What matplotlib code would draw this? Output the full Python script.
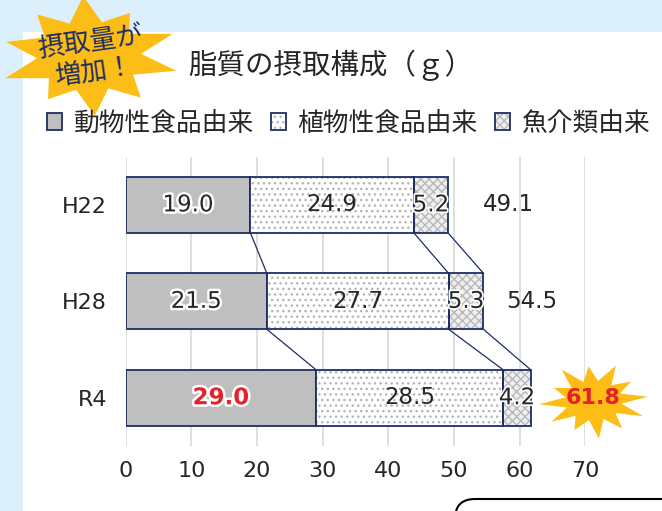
import numpy as np
import matplotlib.pyplot as plt
import matplotlib.patheffects as pe
from matplotlib.patches import Patch, Polygon, Rectangle, FancyBboxPatch
from matplotlib.path import Path

plt.rcParams['font.family'] = ['DejaVu Sans', 'Noto Sans CJK JP']

# data
years = ['H22', 'H28', 'R4']
animal = [19.0, 21.5, 29.0]
plant = [24.9, 27.7, 28.5]
fish = [5.2, 5.3, 4.2]
totals = [49.1, 54.5, 61.8]
series_names = ['動物性食品由来', '植物性食品由来', '魚介類由来']
xticks = [0, 10, 20, 30, 40, 50, 60, 70]
title = '脂質の摂取構成（ｇ）'
badge = '摂取量が\n増加！'

# styles / positions
NAVY = '#1f2d63'
GRAY = '#bfbfbf'
DOT = '#b5b5b5'
CHK = '#b8b8b8'
TXT = '#262626'
RED = '#e8202a'
YEL = '#fbbd16'
BLUE_BG = '#dcf0fb'
total_label_x = [58.3, 61.9, 71.2]
bar_h = 0.58
JP = 'Noto Sans CJK JP'


def burst(radii, rx, ry, rot=0.0, inner=0.5):
    n = len(radii)
    ang = np.linspace(0, 2 * np.pi, 2 * n, endpoint=False) + rot
    r = np.empty(2 * n)
    r[0::2] = radii
    r[1::2] = inner
    return np.column_stack([rx * r * np.cos(ang), ry * r * np.sin(ang)])


fig = plt.figure(figsize=(6.62, 5.11), dpi=100)
fig.patch.set_facecolor(BLUE_BG)

# background panel
bg = fig.add_axes([0, 0, 1, 1], zorder=0)
bg.set_xlim(0, 662)
bg.set_ylim(511, 0)
bg.axis('off')
bg.add_patch(Rectangle((22.7, 31.7), 700, 600, facecolor='white', edgecolor='none'))
bg.add_patch(FancyBboxPatch((455, 499), 300, 80, boxstyle='round,pad=0,rounding_size=20',
                            facecolor='white', edgecolor='black', lw=1.5))

# main chart
ax = fig.add_axes([0.1899, 0.1272, 0.6941, 0.5662], zorder=1)
ax.set_facecolor('none')
y = np.arange(len(years))
a = np.array(animal)
p = np.array(plant)
f = np.array(fish)
left_f = a + p

ax.barh(y, a, height=bar_h, color=GRAY, edgecolor=NAVY, lw=1.3, zorder=3)
ax.barh(y, p, left=a, height=bar_h, color='white', edgecolor=DOT, hatch='...', lw=0, zorder=3)
ax.barh(y, p, left=a, height=bar_h, fill=False, edgecolor=NAVY, lw=1.3, zorder=4)
ax.barh(y, f, left=left_f, height=bar_h, color='#efefef', edgecolor=CHK, hatch='xxxx', lw=0, zorder=3)
ax.barh(y, f, left=left_f, height=bar_h, fill=False, edgecolor=NAVY, lw=1.3, zorder=4)

# connector lines between bars
bounds = np.column_stack([a, left_f, left_f + f])
for i in range(len(years) - 1):
    for k in range(bounds.shape[1]):
        ax.plot([bounds[i, k], bounds[i + 1, k]], [i + bar_h / 2, i + 1 - bar_h / 2],
                color=NAVY, lw=0.9, zorder=2)

# value labels
halo = [pe.withStroke(linewidth=3.5, foreground='white')]
for i in range(len(years)):
    last = i == len(years) - 1
    ax.text(a[i] / 2, i, f'{a[i]:.1f}', ha='center', va='center', fontsize=16.5,
            color=RED if last else TXT, fontweight='bold' if last else 'normal',
            path_effects=halo, zorder=6)
    ax.text(a[i] + p[i] / 2, i, f'{p[i]:.1f}', ha='center', va='center', fontsize=16.5,
            color=TXT, zorder=6)
    ax.text(left_f[i] + f[i] / 2, i, f'{f[i]:.1f}', ha='center', va='center', fontsize=16.5,
            color=TXT, path_effects=[pe.withStroke(linewidth=2.5, foreground='white')], zorder=6)
    if last:
        star = Path(burst([1, 0.85, 1, 0.9, 1, 0.8, 1, 0.95, 0.85, 1, 0.9, 1], 1.0, 0.7, 0.1,
                          inner=0.52), closed=False)
        ax.plot(total_label_x[i], i + 0.02, marker=star, markersize=78, color=YEL,
                markeredgewidth=0, clip_on=False, zorder=5)
        ax.text(total_label_x[i], i, f'{totals[i]:.1f}', ha='center', va='center',
                fontsize=16, fontweight='bold', color=RED, zorder=6, clip_on=False)
    else:
        ax.text(total_label_x[i], i, f'{totals[i]:.1f}', ha='center', va='center',
                fontsize=16.5, color=TXT, zorder=6)

ax.set_xlim(0, 70)
ax.set_ylim(len(years) - 0.5, -0.5)
ax.set_xticks(xticks)
ax.set_yticks(y)
ax.set_yticklabels(years)
ax.tick_params(axis='x', length=0, pad=11, labelsize=16, labelcolor=TXT)
ax.tick_params(axis='y', length=0, pad=13.5, labelsize=16, labelcolor=TXT)
ax.grid(axis='x', color='#d9d9d9', lw=1.2, zorder=0)
ax.set_axisbelow(True)
for s in ax.spines.values():
    s.set_visible(False)

# legend
handles = [
    Patch(facecolor=GRAY, edgecolor=NAVY, lw=1.3),
    (Patch(facecolor='white', edgecolor=DOT, hatch='...', lw=0),
     Patch(fill=False, edgecolor=NAVY, lw=1.3)),
    (Patch(facecolor='#efefef', edgecolor=CHK, hatch='xxxx', lw=0),
     Patch(fill=False, edgecolor=NAVY, lw=1.3)),
]
fig.legend(handles, series_names, loc='center left', bbox_to_anchor=(0.0705, 0.7583),
           ncol=3, frameon=False, prop={'family': JP, 'size': 18.5},
           handlelength=0.6, handleheight=0.6, handletextpad=0.45, columnspacing=0.65,
           borderpad=0, borderaxespad=0, labelcolor=TXT)

# overlay: title and badge
ov = fig.add_axes([0, 0, 1, 1], zorder=5)
ov.set_xlim(0, 662)
ov.set_ylim(511, 0)
ov.axis('off')
ov.patch.set_alpha(0)
ov.text(188, 65, title, ha='left', va='center', fontsize=20.5, family=JP, color=TXT)
pts = burst([1, 0.9, 1, 0.85, 1, 0.95, 0.9, 1, 0.85, 1], 90, 60, 0.25, inner=0.58) + [89, 56]
ov.add_patch(Polygon(pts, closed=True, facecolor=YEL, edgecolor='none'))
ov.text(92, 57, badge, ha='center', va='center', rotation=8, rotation_mode='anchor',
        fontsize=19, family=JP, color=NAVY, linespacing=1.15)

fig.savefig('out.png', dpi=100, facecolor=fig.get_facecolor())
